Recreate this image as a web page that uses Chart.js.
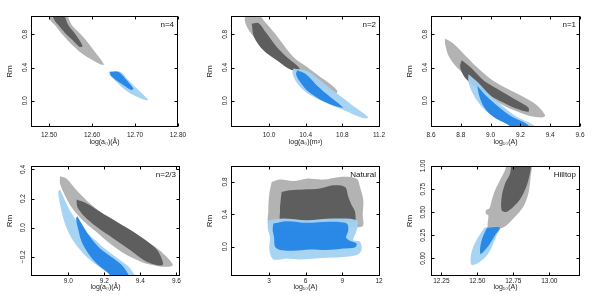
<!DOCTYPE html>
<html><head><meta charset="utf-8">
<script src="https://cdn.jsdelivr.net/npm/chart.js@4/dist/chart.umd.min.js"></script>
<style>
html,body{margin:0;padding:0;background:#fff;width:600px;height:299px;overflow:hidden}
.p{position:absolute;width:200px}
canvas{display:block}
</style></head><body>
<div class="p" style="left:0;top:0;height:150px"><canvas id="c1" width="200" height="150"></canvas></div>
<div class="p" style="left:200px;top:0;height:150px"><canvas id="c2" width="200" height="150"></canvas></div>
<div class="p" style="left:400px;top:0;height:150px"><canvas id="c3" width="200" height="150"></canvas></div>
<div class="p" style="left:0;top:150px;height:149px"><canvas id="c4" width="200" height="149"></canvas></div>
<div class="p" style="left:200px;top:150px;height:149px"><canvas id="c5" width="200" height="149"></canvas></div>
<div class="p" style="left:400px;top:150px;height:149px"><canvas id="c6" width="200" height="149"></canvas></div>
<script>
// ---------- panel titles / axis texts ----------
const PANEL_LABELS = ['n=4', 'n=2', 'n=1', 'n=2/3', 'Natural', 'Hilltop'];
const X_TITLES = ['log(a₀)(Å)', 'log(a₀)(m²)', 'log₁₀(A)', 'log(a₀)(Å)', 'log₁₀(A)', 'log₁₀(A)'];
const Y_TITLE = 'Rm';

// ---------- tick values / labels ----------
const P1_XT = [12.5, 12.6, 12.7, 12.8];       const P1_XL = ['12.50', '12.60', '12.70', '12.80'];
const P2_XT = [10.0, 10.4, 10.8, 11.2];       const P2_XL = ['10.0', '10.4', '10.8', '11.2'];
const P3_XT = [8.6, 8.8, 9.0, 9.2, 9.4, 9.6]; const P3_XL = ['8.6', '8.8', '9.0', '9.2', '9.4', '9.6'];
const P4_XT = [9.0, 9.2, 9.4, 9.6];           const P4_XL = ['9.0', '9.2', '9.4', '9.6'];
const P5_XT = [3, 6, 9, 12];                  const P5_XL = ['3', '6', '9', '12'];
const P6_XT = [12.25, 12.5, 12.75, 13.0];     const P6_XL = ['12.25', '12.50', '12.75', '13.00'];
const TOP_YT = [0, 0.4, 0.8];                 const TOP_YL = ['0.0', '0.4', '0.8'];
const P4_YT = [-0.2, 0, 0.2, 0.4];            const P4_YL = ['−0.2', '0.0', '0.2', '0.4'];
const P5_YT = [0, 0.4, 0.8];                  const P5_YL = ['0.0', '0.4', '0.8'];
const P6_YT = [0, 0.25, 0.5, 0.75, 1.0];      const P6_YL = ['0.00', '0.25', '0.50', '0.75', '1.00'];

// ---------- contour outlines (data units) ----------
// Panel 1 (n=4)
const P1_GL_X = [12.496,12.537,12.553,12.572,12.589,12.607,12.628,12.619,12.595,12.572,12.549,12.529,12.514,12.502];
const P1_GL_Y = [1.06,1.06,0.908,0.808,0.708,0.588,0.436,0.44,0.508,0.588,0.696,0.808,0.908,0.976];
const P1_GD_X = [12.506,12.531,12.545,12.563,12.578,12.571,12.555,12.537,12.522,12.512];
const P1_GD_Y = [1.06,1.06,0.908,0.788,0.656,0.648,0.728,0.816,0.908,0.976];
const P1_BL_X = [12.638,12.665,12.688,12.712,12.731,12.719,12.696,12.673,12.653,12.642];
const P1_BL_Y = [0.348,0.348,0.228,0.108,0.008,0.016,0.068,0.148,0.248,0.308];
const P1_BD_X = [12.642,12.661,12.677,12.696,12.692,12.673,12.653,12.643];
const P1_BD_Y = [0.348,0.348,0.268,0.148,0.128,0.188,0.26,0.308];
// Panel 2 (n=2)
const P2_GL_X = [9.738,9.865,9.956,10.065,10.175,10.284,10.411,10.556,10.684,10.745,10.731,10.629,10.484,10.338,10.193,10.047,9.902,9.793,9.738];
const P2_GL_Y = [1.06,1.06,0.948,0.808,0.648,0.508,0.408,0.288,0.188,0.12,0.088,0.136,0.228,0.32,0.408,0.528,0.688,0.828,0.948];
const P2_GD_X = [9.811,9.884,9.975,10.084,10.193,10.302,10.338,10.284,10.211,10.084,9.938,9.836];
const P2_GD_Y = [0.928,0.936,0.808,0.648,0.528,0.428,0.376,0.36,0.388,0.488,0.608,0.768];
const P2_BL_X = [10.265,10.411,10.556,10.702,10.884,11.084,11.029,10.811,10.593,10.411,10.309,10.258];
const P2_BL_Y = [0.388,0.36,0.248,0.12,-0.032,-0.2,-0.212,-0.112,-0.012,0.096,0.208,0.32];
const P2_BD_X = [10.309,10.404,10.52,10.665,10.804,10.72,10.556,10.418,10.338,10.295];
const P2_BD_Y = [0.368,0.32,0.188,0.048,-0.08,-0.064,0.016,0.12,0.228,0.32];
// Panel 3 (n=1)
const P3_GL_X = [8.694,8.75,8.828,8.906,8.996,9.086,9.197,9.309,9.365,9.354,9.264,9.153,9.063,8.974,8.895,8.828,8.761,8.716,8.694];
const P3_GL_Y = [0.748,0.688,0.548,0.408,0.268,0.168,0.068,-0.052,-0.172,-0.2,-0.184,-0.112,-0.032,0.068,0.188,0.308,0.428,0.548,0.688];
const P3_GD_X = [8.806,8.862,8.951,9.041,9.153,9.253,9.253,9.153,9.063,8.974,8.884,8.821,8.795];
const P3_GD_Y = [0.488,0.408,0.248,0.148,0.028,-0.08,-0.132,-0.08,-0.004,0.08,0.18,0.296,0.408];
const P3_BL_X = [8.851,8.911,8.996,9.086,9.175,9.287,9.309,9.197,9.13,9.041,8.962,8.906,8.868,8.851];
const P3_BL_Y = [0.32,0.228,0.068,-0.072,-0.192,-0.292,-0.372,-0.372,-0.292,-0.216,-0.112,0.008,0.136,0.228];
const P3_BD_X = [8.912,8.965,9.053,9.143,9.243,9.276,9.186,9.108,9.018,8.962,8.929,8.915];
const P3_BD_Y = [0.176,0.068,-0.072,-0.192,-0.28,-0.372,-0.372,-0.28,-0.192,-0.092,0.028,0.128];
// Panel 4 (n=2/3)
const P4_GL_X = [8.954,8.991,9.046,9.12,9.213,9.306,9.398,9.481,9.546,9.58,9.556,9.491,9.417,9.324,9.231,9.148,9.074,9.019,8.981,8.954];
const P4_GL_Y = [0.353,0.337,0.257,0.166,0.074,-0.006,-0.074,-0.131,-0.2,-0.257,-0.269,-0.263,-0.241,-0.189,-0.109,-0.022,0.058,0.138,0.223,0.303];
const P4_GD_X = [9.046,9.102,9.176,9.269,9.361,9.454,9.5,9.524,9.435,9.343,9.25,9.157,9.083,9.05];
const P4_GD_Y = [0.193,0.166,0.109,0.04,-0.029,-0.109,-0.166,-0.257,-0.234,-0.154,-0.074,0.006,0.086,0.143];
const P4_BL_X = [8.954,8.981,9.019,9.065,9.139,9.213,9.287,9.343,9.38,9.296,9.231,9.157,9.083,9.019,8.981,8.959,8.944];
const P4_BL_Y = [0.262,0.189,0.097,0.017,-0.074,-0.154,-0.223,-0.28,-0.371,-0.371,-0.319,-0.257,-0.177,-0.074,0.029,0.131,0.246];
const P4_BD_X = [9.05,9.074,9.12,9.176,9.25,9.306,9.346,9.272,9.213,9.157,9.111,9.074,9.056,9.043];
const P4_BD_Y = [0.079,0.029,-0.063,-0.143,-0.211,-0.269,-0.371,-0.371,-0.303,-0.246,-0.177,-0.097,-0.017,0.063];
// Panel 5 (Natural)
const P5_GL_X = [3.218,3.9,4.991,6.082,7.445,8.809,10.172,10.445,10.717,10.663,10.581,3.082,2.945,3.027];
const P5_GL_Y = [0.8,0.829,0.812,0.841,0.829,0.862,0.841,0.738,0.574,0.41,0.246,0.246,0.451,0.656];
const P5_GD_X = [4.036,4.718,5.809,7.172,8.263,9.218,9.49,9.763,10.036,9.954,4.036,3.9,3.954];
const P5_GD_Y = [0.677,0.697,0.706,0.718,0.759,0.738,0.615,0.513,0.431,0.308,0.295,0.451,0.574];
const P5_BL_X = [2.945,4.173,6.082,8.263,10.172,10.172,9.9,10.445,10.581,10.172,8.809,6.9,5.536,4.445,3.355,3.027,3.082,2.891];
const P5_BL_Y = [0.328,0.349,0.328,0.349,0.328,0.205,0.082,0.062,-0.041,-0.103,-0.131,-0.144,-0.156,-0.144,-0.156,-0.041,0.123,0.226];
const P5_BD_X = [3.355,4.445,6.082,7.99,9.354,9.49,9.3,9.627,10.172,10.036,9.081,7.718,6.354,4.991,3.9,3.491,3.409,3.3];
const P5_BD_Y = [0.287,0.316,0.295,0.308,0.287,0.205,0.115,0.074,0.041,-0.008,-0.021,-0.041,-0.033,-0.049,-0.041,0,0.123,0.205];
// Panel 6 (Hilltop)
const P6_GL_X = [12.704,12.87,12.87,12.854,12.819,12.762,12.704,12.657,12.576,12.576,12.56,12.56,12.583,12.6,12.623,12.657,12.692];
const P6_GL_Y = [1.04,1.04,0.881,0.701,0.558,0.45,0.36,0.324,0.324,0.468,0.478,0.522,0.54,0.629,0.737,0.845,0.953];
const P6_GD_X = [12.738,12.866,12.854,12.819,12.773,12.704,12.669,12.669,12.692,12.727];
const P6_GD_Y = [1.04,1.04,0.845,0.701,0.594,0.504,0.522,0.665,0.809,0.917];
const P6_BL_X = [12.553,12.657,12.634,12.611,12.576,12.519,12.461,12.454,12.472,12.507,12.537];
const P6_BL_Y = [0.335,0.335,0.252,0.162,0.054,-0.036,-0.072,0.018,0.126,0.234,0.306];
const P6_BD_X = [12.569,12.657,12.623,12.588,12.553,12.523,12.519,12.53,12.553];
const P6_BD_Y = [0.335,0.335,0.252,0.162,0.09,0.047,0.108,0.198,0.288];

// ---------- styling ----------
const C_GL = '#b3b3b3', C_GD = '#5e5e5e', C_BL = 'rgba(163,210,243,0.95)', C_BD = 'rgba(36,134,230,0.95)';
const FONT = '"Liberation Sans", Arial, sans-serif';

function poly(xs, ys, color, order) {
  const pts = xs.map((x, i) => ({x: x, y: ys[i]}));
  pts.push({x: xs[0], y: ys[0]});
  return {data: pts, showLine: true, fill: 'shape', backgroundColor: color,
          borderColor: 'rgba(0,0,0,0)', borderWidth: 0, pointRadius: 0, pointHoverRadius: 0,
          tension: 0.3, order: order};
}

const boxPlugin = {
  id: 'box',
  afterDatasetsDraw(chart, args, opts) {
    const ctx = chart.ctx, a = chart.chartArea, sx = chart.scales.x, sy = chart.scales.y;
    ctx.save();
    ctx.strokeStyle = '#000'; ctx.lineWidth = 1;
    const l = Math.round(a.left) + 0.5, r = Math.round(a.right) - 0.5, t = Math.round(a.top) + 0.5, b = Math.round(a.bottom) - 0.5;
    ctx.strokeRect(l, t, r - l, b - t);
    const L = 3;
    ctx.beginPath();
    sx.ticks.forEach(tk => { const p = Math.round(sx.getPixelForValue(tk.value)) + 0.5;
      ctx.moveTo(p, b); ctx.lineTo(p, b - L); ctx.moveTo(p, t); ctx.lineTo(p, t + L); });
    sy.ticks.forEach(tk => { const p = Math.round(sy.getPixelForValue(tk.value)) + 0.5;
      ctx.moveTo(l, p); ctx.lineTo(l + L, p); ctx.moveTo(r, p); ctx.lineTo(r - L, p); });
    ctx.stroke();
    ctx.font = '8px ' + FONT; ctx.textAlign = 'right'; ctx.textBaseline = 'middle'; ctx.fillStyle = '#111';
    ctx.fillText(opts.text, a.right - 4, a.top + 9);
    ctx.restore();
  }
};

function makePanel(id, o) {
  new Chart(document.getElementById(id), {
    type: 'scatter',
    data: {datasets: [
      poly(o.gl[0], o.gl[1], C_GL, 4), poly(o.gd[0], o.gd[1], C_GD, 3),
      poly(o.bl[0], o.bl[1], C_BL, 2), poly(o.bd[0], o.bd[1], C_BD, 1)]},
    options: {
      animation: false, responsive: false, events: [],
      layout: {padding: {left: 0, top: 16, right: o.padR, bottom: 0}},
      plugins: {legend: {display: false}, tooltip: {enabled: false}, box: {text: o.label}},
      scales: {
        x: {type: 'linear', min: o.xMin, max: o.xMax,
            grid: {display: false, drawTicks: false}, border: {display: false},
            afterBuildTicks: s => { s.ticks = o.xT.map(v => ({value: v})); },
            afterFit: s => { s.height = o.xH; },
            ticks: {padding: o.xPad, minRotation: 0, maxRotation: 0, autoSkip: false, color: '#222',
                    font: {family: FONT, size: 6.5}, callback: (v, i) => o.xL[i]},
            title: {display: true, text: o.xTitle, color: '#222', font: {family: FONT, size: 7},
                    padding: {top: 0, bottom: o.xTitlePad}}},
        y: {type: 'linear', min: o.yMin, max: o.yMax,
            grid: {display: false, drawTicks: false}, border: {display: false},
            afterBuildTicks: s => { s.ticks = o.yT.map(v => ({value: v})); },
            afterFit: s => { s.width = 31; },
            ticks: {padding: 1, minRotation: 90, maxRotation: 90, crossAlign: 'center', autoSkip: false,
                    color: '#222', font: {family: FONT, size: 6.5}, callback: (v, i) => o.yL[i]},
            title: {display: true, text: Y_TITLE, color: '#222', font: {family: FONT, size: 8},
                    padding: {top: 5, bottom: 0}}}
      }
    },
    plugins: [boxPlugin]
  });
}

const TOP = {xH: 23, xPad: 4, xTitlePad: 4, yMin: -0.316, yMax: 1.02, yT: TOP_YT, yL: TOP_YL};
const BOT = {xH: 23, xPad: 1, xTitlePad: 8};

makePanel('c1', Object.assign({}, TOP, {padR: 22, xMin: 12.458, xMax: 12.8, xT: P1_XT, xL: P1_XL,
  xTitle: X_TITLES[0], label: PANEL_LABELS[0],
  gl: [P1_GL_X, P1_GL_Y], gd: [P1_GD_X, P1_GD_Y], bl: [P1_BL_X, P1_BL_Y], bd: [P1_BD_X, P1_BD_Y]}));
makePanel('c2', Object.assign({}, TOP, {padR: 20, xMin: 9.585, xMax: 11.211, xT: P2_XT, xL: P2_XL,
  xTitle: X_TITLES[1], label: PANEL_LABELS[1],
  gl: [P2_GL_X, P2_GL_Y], gd: [P2_GD_X, P2_GD_Y], bl: [P2_BL_X, P2_BL_Y], bd: [P2_BD_X, P2_BD_Y]}));
makePanel('c3', Object.assign({}, TOP, {padR: 20, xMin: 8.6, xMax: 9.6, xT: P3_XT, xL: P3_XL,
  xTitle: X_TITLES[2], label: PANEL_LABELS[2],
  gl: [P3_GL_X, P3_GL_Y], gd: [P3_GD_X, P3_GD_Y], bl: [P3_BL_X, P3_BL_Y], bd: [P3_BD_X, P3_BD_Y]}));
makePanel('c4', Object.assign({}, BOT, {padR: 20, xMin: 8.793, xMax: 9.62, xT: P4_XT, xL: P4_XL,
  yMin: -0.3326, yMax: 0.424, yT: P4_YT, yL: P4_YL,
  xTitle: X_TITLES[3], label: PANEL_LABELS[3],
  gl: [P4_GL_X, P4_GL_Y], gd: [P4_GD_X, P4_GD_Y], bl: [P4_BL_X, P4_BL_Y], bd: [P4_BD_X, P4_BD_Y]}));
makePanel('c5', Object.assign({}, BOT, {padR: 20, xMin: -0.109, xMax: 12.08, xT: P5_XT, xL: P5_XL,
  yMin: -0.361, yMax: 0.997, yT: P5_YT, yL: P5_YL,
  xTitle: X_TITLES[4], label: PANEL_LABELS[4],
  gl: [P5_GL_X, P5_GL_Y], gd: [P5_GD_X, P5_GD_Y], bl: [P5_BL_X, P5_BL_Y], bd: [P5_BD_X, P5_BD_Y]}));
makePanel('c6', Object.assign({}, BOT, {padR: 20, xMin: 12.178, xMax: 13.213, xT: P6_XT, xL: P6_XL,
  yMin: -0.19, yMax: 1.0, yT: P6_YT, yL: P6_YL,
  xTitle: X_TITLES[5], label: PANEL_LABELS[5],
  gl: [P6_GL_X, P6_GL_Y], gd: [P6_GD_X, P6_GD_Y], bl: [P6_BL_X, P6_BL_Y], bd: [P6_BD_X, P6_BD_Y]}));
</script>
</body></html>
